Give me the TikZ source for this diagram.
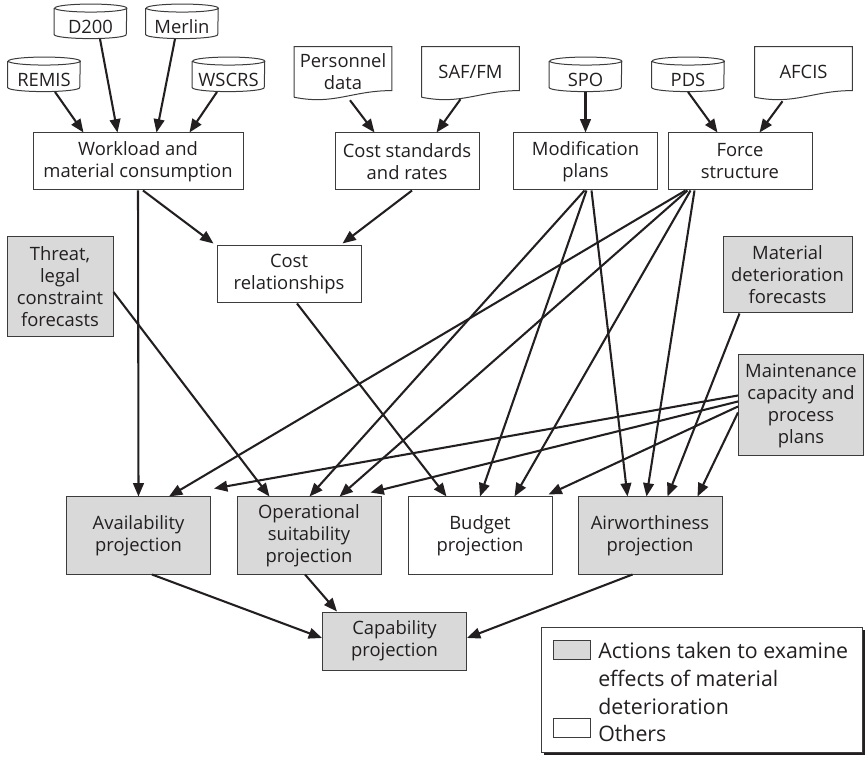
\documentclass[tikz,border=0pt]{standalone}
\usepackage{fontspec}
\setmainfont{Open Sans}
\usepackage{tikz}
\usetikzlibrary{calc,arrows.meta,shadows}
\definecolor{ink}{HTML}{231F20}
\definecolor{edge}{HTML}{3C3C3C}
\definecolor{shade}{HTML}{D9D9D9}
\tikzset{
  box/.style={draw=edge, line width=0.75pt, fill=white, text=ink, align=center, minimum width=108pt, minimum height=42.75pt, inner sep=1pt, font=\fontsize{13.8}{16.5}\selectfont},
  grey/.style={box, fill=shade},
  src/.style={text=ink, align=center, inner sep=0pt, font=\fontsize{13.8}{16.5}\selectfont},
  dbnode/.style={src, minimum width=54pt, minimum height=16pt},
  docnode/.style={src, minimum width=72.75pt, minimum height=37.5pt},
  outline/.style={draw=edge, line width=0.75pt},
  feed/.style={draw=ink, line width=1.55pt, -{Triangle[length=10pt,width=8pt]}},
  legbox/.style={box, general shadow={fill=ink, shadow xshift=2pt, shadow yshift=-2pt}},
  legtext/.style={text=ink, align=left, inner sep=0pt, anchor=west, font=\fontsize{16}{21}\selectfont},
}
\newcommand\dbdraw[1]{\draw[outline] ([yshift=6pt]#1.north west) -- ([yshift=2.5pt]#1.south west) arc[start angle=180,end angle=360,x radius=27pt,y radius=3pt] -- ([yshift=6pt]#1.north east) arc[start angle=0,end angle=360,x radius=27pt,y radius=3pt];}
\newcommand\docdraw[1]{\draw[outline] (#1.south west) -- (#1.north west) -- (#1.north east) -- ([yshift=5pt]#1.south east) .. controls ([xshift=-30pt,yshift=5pt]#1.south east) and ([xshift=30pt,yshift=-6pt]#1.south west) .. (#1.south west);}

\begin{document}
\begin{tikzpicture}[x=0.75pt,y=-0.75pt]
  \useasboundingbox (0,0) rectangle (865,759);

  \node[dbnode] (dtwo) at (90.5,27) {D200};
  \node[dbnode] (merlin) at (182,27) {Merlin};
  \node[dbnode] (remis) at (44,80) {REMIS};
  \node[dbnode] (wscrs) at (228.5,80) {WSCRS};
  \node[dbnode] (spo) at (585.5,80) {SPO};
  \node[dbnode] (pds) at (688,80) {PDS};
  \node[docnode] (personnel) at (343,72) {Personnel\\data};
  \node[docnode] (saffm) at (470.5,72) {SAF/FM};
  \node[docnode] (afcis) at (803.5,72) {AFCIS};
  \foreach \n in {dtwo,merlin,remis,wscrs,spo,pds} {\dbdraw{\n}}
  \foreach \n in {personnel,saffm,afcis} {\docdraw{\n}}

  \node[box, minimum width=157.5pt] (workload) at (138,161.5) {Workload and\\material consumption};
  \node[box] (coststd) at (407,161.5) {Cost standards\\and rates};
  \node[box] (modplans) at (585.5,161.5) {Modification\\plans};
  \node[box] (force) at (740,161.5) {Force\\structure};
  \node[box] (costrel) at (289,274.5) {Cost\\relationships};
  \node[grey, minimum width=79.5pt, minimum height=75pt] (threat) at (60,287) {Threat,\\legal\\constraint\\forecasts};
  \node[grey, minimum width=96.75pt, minimum height=57pt] (matdet) at (787.5,275) {Material\\deterioration\\forecasts};
  \node[grey, minimum width=93.75pt, minimum height=75.75pt] (maint) at (801,405.5) {Maintenance\\capacity and\\process\\plans};
  \node[grey, minimum height=57.75pt] (avail) at (138.5,535.5) {Availability\\projection};
  \node[grey, minimum height=57.75pt] (opsuit) at (309,535.5) {Operational\\suitability\\projection};
  \node[box, minimum height=57.75pt] (budget) at (480,535.5) {Budget\\projection};
  \node[grey, minimum height=57.75pt] (airw) at (650,535.5) {Airworthiness\\projection};
  \node[grey, minimum height=43.5pt] (capab) at (394.5,641) {Capability\\projection};

  \node[legbox, minimum width=240.75pt, minimum height=93.75pt] (legend) at (701.5,689.5) {};
  \node[grey, minimum width=27.75pt, minimum height=14.25pt] (keygrey) at (571.5,649.5) {};
  \node[box, minimum width=27.75pt, minimum height=14.25pt] (keywhite) at (571.5,728) {};
  \node[legtext] (keytext) at (598,678) {Actions taken to examine\\effects of material\\deterioration};
  \node[legtext] (keyother) at (598,733) {Others};

  \draw[feed] ($(remis.south)+(11,1)$) -- ($(workload.north west)+(51,0)$);
  \draw[feed] ($(dtwo.south)+(9.5,1)$) -- ($(workload.north west)+(85,0)$);
  \draw[feed] ($(merlin.south)+(-7,1)$) -- ($(workload.north west)+(124,0)$);
  \draw[feed] ($(wscrs.south)+(-11.5,1)$) -- ($(workload.north west)+(157,0)$);
  \draw[feed] ($(personnel.south)+(7,3)$) -- ($(coststd.north west)+(40,0)$);
  \draw[feed] ($(saffm.south)+(-10,2)$) -- ($(coststd.north west)+(102,0)$);
  \draw[feed] ($(spo.south)+(0,1)$) -- (modplans.north);
  \draw[feed] ($(pds.south)+(0,1)$) -- ($(force.north west)+(50,0)$);
  \draw[feed] ($(afcis.south)+(-21,4)$) -- ($(force.north west)+(92,0)$);

  \draw[feed] ($(workload.south)+(5,0)$) -- ($(costrel.north west)+(-3,-2)$);
  \draw[feed] ($(coststd.south)+(5,0)$) -- ($(costrel.north west)+(126,-2)$);
  \draw[feed] (workload.south) -- (avail.north);
  \draw[feed] ($(threat.east)+(0,5)$) -- ($(opsuit.north west)+(33,0)$);
  \draw[feed] ($(costrel.south)+(8,0)$) -- ($(budget.north west)+(39,0)$);
  \draw[feed] ($(modplans.south)+(-1,0)$) -- ($(opsuit.north west)+(73,0)$);
  \draw[feed] ($(modplans.south)+(1,0)$) -- (budget.north);
  \draw[feed] ($(modplans.south)+(6,0)$) -- ($(airw.north west)+(50,0)$);
  \draw[feed] ($(force.south west)+(18,0)$) -- ($(avail.north west)+(103,0)$);
  \draw[feed] ($(force.south west)+(20,0)$) -- ($(opsuit.north west)+(103,0)$);
  \draw[feed] ($(force.south west)+(23,0)$) -- ($(budget.north west)+(107,0)$);
  \draw[feed] ($(force.south west)+(27,0)$) -- ($(airw.north west)+(69,0)$);
  \draw[feed] ($(matdet.south west)+(17,0)$) -- ($(airw.north west)+(90,0)$);
  \draw[feed] ($(maint.west)+(0,-10)$) -- ($(avail.north east)+(3,-8)$);
  \draw[feed] ($(maint.west)+(0,-4)$) -- ($(opsuit.north east)+(-11,-4)$);
  \draw[feed] ($(maint.west)+(0,1)$) -- ($(budget.north east)+(-4,-2)$);
  \draw[feed] ($(maint.west)+(0,7)$) -- ($(airw.north west)+(120,0)$);

  \draw[feed] ($(avail.south west)+(86,0)$) -- ($(capab.west)+(0,-3)$);
  \draw[feed] ($(opsuit.south)+(-4,0)$) -- ($(capab.north west)+(15,0)$);
  \draw[feed] ($(airw.south west)+(55,0)$) -- ($(capab.east)+(0,-3)$);
\end{tikzpicture}
\end{document}
